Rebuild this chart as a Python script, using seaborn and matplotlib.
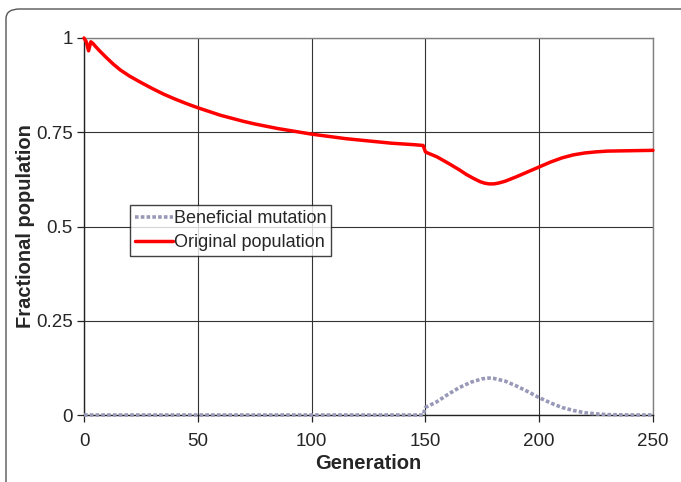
import matplotlib
matplotlib.use("Agg")
import matplotlib.pyplot as plt
import seaborn as sns
import pandas as pd
from matplotlib.patches import FancyBboxPatch

# ---- data ----
orig_gen = [0, 1, 2, 3, 4, 5, 7, 10, 13, 16, 20, 25, 30, 35, 40, 45, 50, 55, 60, 65, 70, 75,
            80, 85, 90, 95, 100, 105, 110, 115, 120, 125, 130, 135, 140, 145, 149,
            150, 151, 155, 160, 165, 168, 171, 174, 176, 178, 180, 182, 185, 190, 195,
            200, 205, 210, 215, 220, 225, 230, 240, 250]
orig_val = [1.0, 0.99, 0.966, 0.99, 0.985, 0.978, 0.965, 0.947, 0.930, 0.915, 0.899,
            0.882, 0.866, 0.851, 0.838, 0.826, 0.815, 0.805, 0.795, 0.787, 0.779, 0.772,
            0.766, 0.760, 0.755, 0.750, 0.745, 0.741, 0.737, 0.733, 0.730, 0.727,
            0.724, 0.721, 0.719, 0.717, 0.715,
            0.698, 0.695, 0.685, 0.668, 0.650, 0.638, 0.628, 0.619, 0.615, 0.613,
            0.613, 0.615, 0.620, 0.632, 0.645, 0.658, 0.671, 0.682, 0.690, 0.695,
            0.698, 0.700, 0.701, 0.702]

ben_gen = [0, 50, 100, 149, 150, 152, 155, 160, 165, 170, 175, 178, 180, 185, 190, 195,
           200, 205, 210, 215, 220, 225, 230, 240, 250]
ben_val = [0.0, 0.0, 0.0, 0.0, 0.02, 0.026, 0.035, 0.055, 0.073, 0.087, 0.096, 0.098,
           0.097, 0.090, 0.077, 0.062, 0.046, 0.032, 0.020, 0.012, 0.006, 0.003,
           0.001, 0.0, 0.0]

x_ticks = [0, 50, 100, 150, 200, 250]
y_ticks = [0, 0.25, 0.5, 0.75, 1]
y_tick_labels = ["0", "0.25", "0.5", "0.75", "1"]

# ---- styling ----
sns.set_style("white")
plt.rcParams["font.family"] = ["Liberation Sans", "DejaVu Sans"]

fig = plt.figure(figsize=(6.81, 4.82), dpi=100)
ax = fig.add_axes([84 / 681, 1 - 415 / 482, (653 - 84) / 681, (415 - 38) / 482])

df_ben = pd.DataFrame({"Generation": ben_gen, "value": ben_val})
df_orig = pd.DataFrame({"Generation": orig_gen, "value": orig_val})

sns.lineplot(data=df_ben, x="Generation", y="value", ax=ax, color="#9898b8",
             linewidth=2.6, linestyle=(0, (1, 0.6)), label="Beneficial mutation",
             clip_on=False, zorder=4)
sns.lineplot(data=df_orig, x="Generation", y="value", ax=ax, color="#ff0000",
             linewidth=2.5, label="Original population", clip_on=False, zorder=5)

ax.set_xlim(0, 250)
ax.set_ylim(0, 1)
ax.set_xticks(x_ticks)
ax.set_xticklabels([str(t) for t in x_ticks])
ax.set_yticks(y_ticks)
ax.set_yticklabels(y_tick_labels)

ax.grid(True, color="#333333", linewidth=0.8)
ax.set_axisbelow(True)

for side in ["top", "right"]:
    ax.spines[side].set_visible(True)
    ax.spines[side].set_color("#808080")
    ax.spines[side].set_linewidth(1.0)
for side in ["left", "bottom"]:
    ax.spines[side].set_visible(True)
    ax.spines[side].set_color("#222222")
    ax.spines[side].set_linewidth(1.0)

ax.tick_params(axis="both", which="major", labelsize=13.5, length=5, width=0.9,
               color="#222222", direction="out", bottom=True, left=True, pad=3)
ax.tick_params(axis="x", pad=8)

ax.set_xlabel("Generation", fontsize=14.5, fontweight="bold", labelpad=3)
ax.set_ylabel("Fractional population", fontsize=14.5, fontweight="bold", labelpad=1)

leg = ax.legend(loc="upper left", bbox_to_anchor=(0.081, 0.556), fontsize=13,
                frameon=True, fancybox=False, edgecolor="#111111",
                handlelength=2.1, handletextpad=0.1, borderpad=0.25,
                labelspacing=0.42, borderaxespad=0.0)
leg.get_frame().set_linewidth(1.0)

# rounded figure border
border = FancyBboxPatch((6 / 681, -0.05), 1.05, 1 - 9 / 482 + 0.05,
                        boxstyle="round,pad=0,rounding_size=0.02",
                        transform=fig.transFigure, facecolor="none",
                        edgecolor="#555555", linewidth=1.0, clip_on=False)
fig.patches.append(border)

fig.savefig("out.png", dpi=100)
